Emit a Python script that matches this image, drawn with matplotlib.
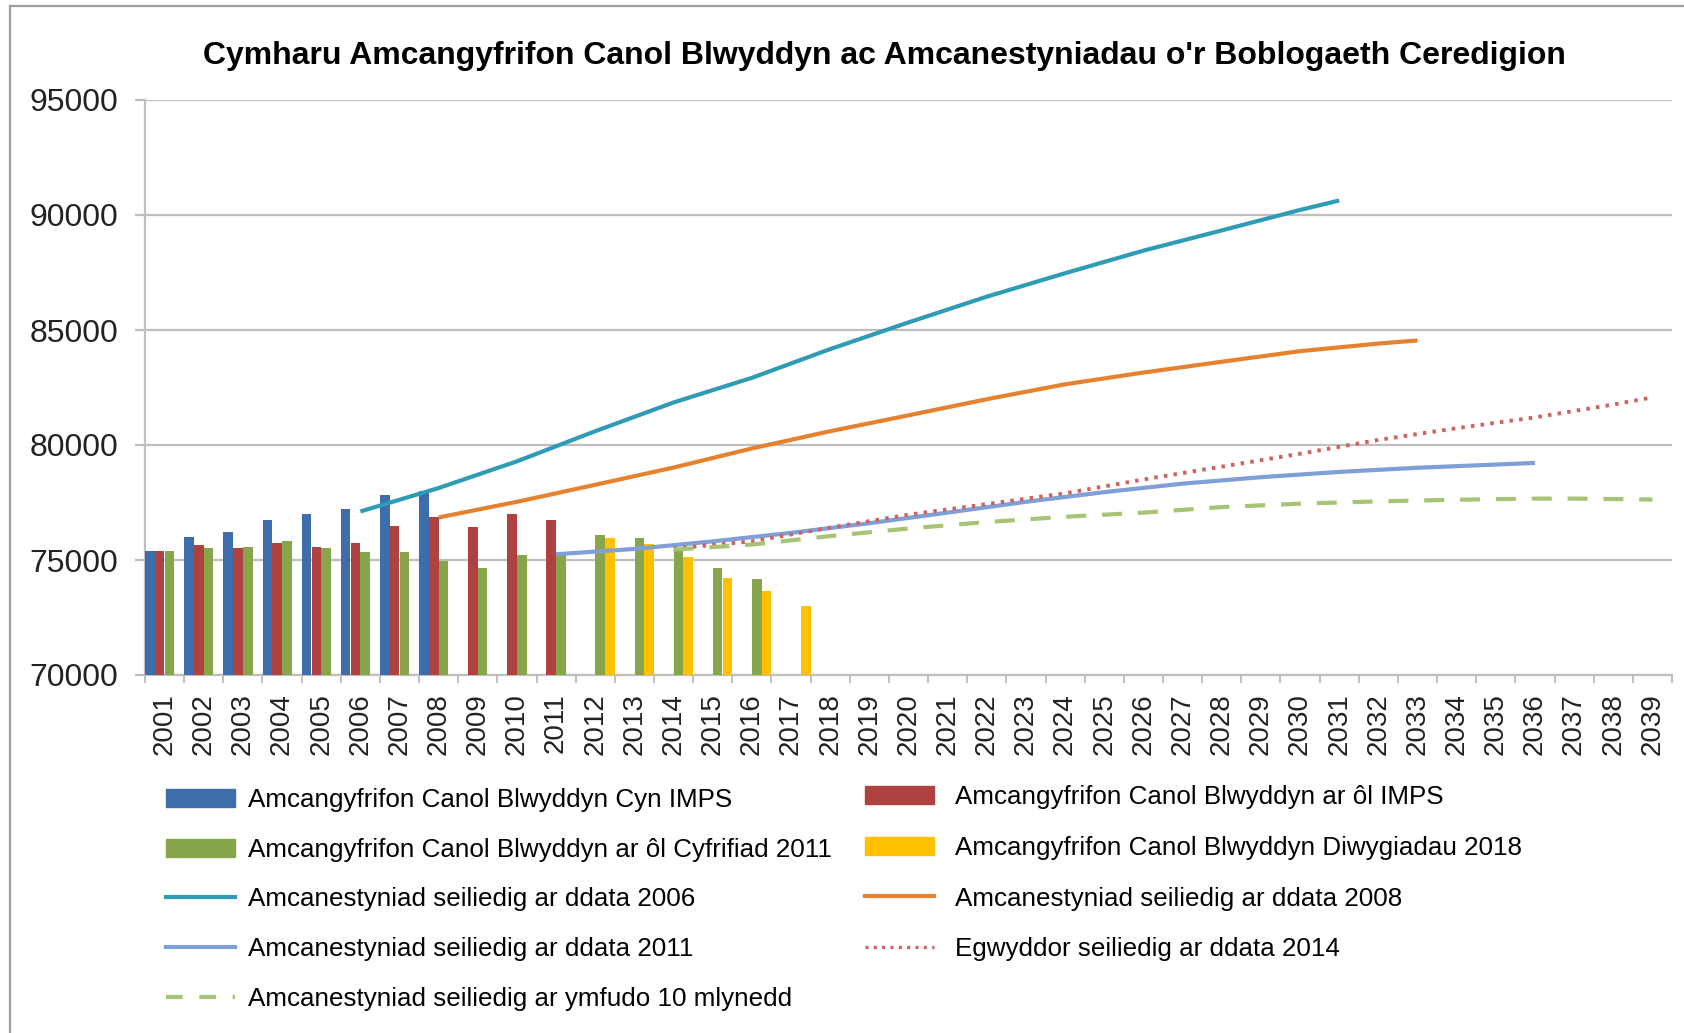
import numpy as np
import matplotlib
matplotlib.use("Agg")
import matplotlib.pyplot as plt
from matplotlib.lines import Line2D

plt.rcParams['font.family'] = ['Liberation Sans', 'DejaVu Sans']

# ------------------------- Data -------------------------
years = list(range(2001, 2040))

# bars (mid-year estimates)
blue_years = list(range(2001, 2009))
blue_vals = [75400, 75990, 76200, 76760, 76985, 77220, 77840, 78010]

red_years = list(range(2001, 2012))
red_vals = [75400, 75650, 75510, 75730, 75570, 75730, 76470, 76870, 76430, 76985, 76760]

green_years = list(range(2001, 2017))
green_vals = [75400, 75530, 75570, 75810, 75530, 75350, 75350, 74970,
              74660, 75220, 75220, 76070, 75970, 75395, 74660, 74160]

yellow_years = list(range(2012, 2018))
yellow_vals = [75970, 75700, 75120, 74220, 73650, 73015]

# projections
p2006_years = [2006, 2008, 2010, 2012, 2014, 2016, 2018, 2020, 2022, 2024, 2026, 2028, 2030, 2031]
p2006_vals = [77110, 78130, 79290, 80600, 81850, 82920, 84170, 85330, 86450, 87470, 88450, 89330, 90220, 90630]

p2008_years = [2008, 2010, 2012, 2014, 2016, 2018, 2020, 2022, 2024, 2026, 2028, 2030, 2032, 2033]
p2008_vals = [76850, 77530, 78270, 79020, 79850, 80600, 81290, 81990, 82640, 83150, 83620, 84080, 84410, 84545]

p2011_years = [2011, 2013, 2015, 2017, 2019, 2021, 2023, 2025, 2027, 2029, 2031, 2033, 2035, 2036]
p2011_vals = [75250, 75480, 75810, 76180, 76600, 77060, 77530, 77950, 78320, 78600, 78830, 79010, 79150, 79220]

p2014_years = [2014, 2016, 2018, 2020, 2022, 2024, 2026, 2028, 2030, 2032, 2034, 2036, 2038, 2039]
p2014_vals = [75500, 75810, 76410, 76970, 77430, 77900, 78500, 79060, 79620, 80220, 80730, 81200, 81760, 82070]

mig_years = [2014, 2016, 2018, 2020, 2022, 2024, 2026, 2028, 2030, 2032, 2034, 2036, 2037, 2039]
mig_vals = [75450, 75670, 76040, 76370, 76650, 76880, 77060, 77300, 77450, 77550, 77620, 77670, 77670, 77630]

labels = [
    "Amcangyfrifon Canol Blwyddyn Cyn IMPS",
    "Amcangyfrifon Canol Blwyddyn ar ôl IMPS",
    "Amcangyfrifon Canol Blwyddyn ar ôl Cyfrifiad 2011",
    "Amcangyfrifon Canol Blwyddyn Diwygiadau 2018",
    "Amcanestyniad seiliedig ar ddata 2006",
    "Amcanestyniad seiliedig ar ddata 2008",
    "Amcanestyniad seiliedig ar ddata 2011",
    "Egwyddor seiliedig ar ddata 2014",
    "Amcanestyniad seiliedig ar ymfudo 10 mlynedd",
]

title = "Cymharu Amcangyfrifon Canol Blwyddyn ac Amcanestyniadau o'r Boblogaeth Ceredigion"

# ------------------------- Figure -------------------------
W, H = 1684, 1033
fig = plt.figure(figsize=(W / 100, H / 100), dpi=100)
ax = fig.add_axes([145 / W, 1 - 675 / H, (1672 - 145) / W, (675 - 100) / H])

def xpos(yrs):
    return np.array(yrs) - years[0]

bw = 0.245
ax.bar(xpos(blue_years) - 0.375, np.array(blue_vals) - 70000, bw, bottom=70000, color='#3E6DAB', zorder=3)
ax.bar(xpos(red_years) - 0.125, np.array(red_vals) - 70000, bw, bottom=70000, color='#AF4241', zorder=3)
ax.bar(xpos(green_years) + 0.125, np.array(green_vals) - 70000, bw, bottom=70000, color='#87A64B', zorder=3)
ax.bar(xpos(yellow_years) + 0.375, np.array(yellow_vals) - 70000, bw, bottom=70000, color='#FFC000', zorder=3)

ax.plot(xpos(p2006_years), p2006_vals, color='#2F9BB5', lw=3.0, zorder=4, solid_capstyle='butt')
ax.plot(xpos(p2008_years), p2008_vals, color='#E5822F', lw=3.0, zorder=4, solid_capstyle='butt')
ax.plot(xpos(p2011_years), p2011_vals, color='#809FD6', lw=3.0, zorder=4, solid_capstyle='butt')
ax.plot(xpos(p2014_years), p2014_vals, color='#CD6262', lw=2.8, ls=(0, (0.9, 1.6)), zorder=4)
ax.plot(xpos(mig_years), mig_vals, color='#A6C474', lw=3.0, ls=(0, (4.8, 3.8)), zorder=4)

ax.set_xlim(-0.5, len(years) - 0.5)
ax.set_ylim(70000, 95000)
ax.set_yticks(range(70000, 95001, 5000))
ax.set_yticklabels([str(v) for v in range(70000, 95001, 5000)], fontsize=23, color='#222222')
ax.set_xticks(range(len(years)))
ax.set_xticklabels([str(y) for y in years], rotation=90, fontsize=20, color='#222222')
ax.set_xticks(np.arange(-0.5, len(years)), minor=True)

grid_c = '#BFBFBF'
ax.grid(axis='y', color=grid_c, lw=1.6, zorder=0)
ax.tick_params(axis='x', which='major', length=0, pad=13)
ax.tick_params(axis='x', which='minor', length=6, width=1.4, color=grid_c)
ax.tick_params(axis='y', length=7, width=1.6, color=grid_c, pad=12)
for s in ['top', 'right']:
    ax.spines[s].set_visible(False)
for s in ['left', 'bottom']:
    ax.spines[s].set_color(grid_c)
    ax.spines[s].set_linewidth(1.6)

fig.text(884 / W, 1 - 56 / H, title, ha='center', va='center', fontsize=23, fontweight='bold')

# ------------------------- Legend -------------------------
bar_h = [plt.Rectangle((0, 0), 1, 1, color=c) for c in ['#3E6DAB', '#AF4241', '#87A64B', '#FFC000']]
line_h = [
    Line2D([], [], color='#2F9BB5', lw=3.0),
    Line2D([], [], color='#E5822F', lw=3.0),
    Line2D([], [], color='#809FD6', lw=3.0),
    Line2D([], [], color='#CD6262', lw=2.4, ls=(0, (0.9, 1.6))),
    Line2D([], [], color='#A6C474', lw=3.0, ls=(0, (4.0, 4.0))),
]
handles = bar_h + line_h
col1 = [0, 2, 4, 6, 8]
col2 = [1, 3, 5, 7]
common = dict(loc='upper left', frameon=False, fontsize=18.7, borderpad=0, borderaxespad=0,
              handlelength=2.65, labelspacing=0.99)
fig.legend([handles[i] for i in col1], [labels[i] for i in col1],
           bbox_to_anchor=(166 / W, 1 - 788 / H), handletextpad=0.5, **common)
fig.legend([handles[i] for i in col2], [labels[i] for i in col2],
           bbox_to_anchor=(865 / W, 1 - 785 / H), handletextpad=0.8, labelspacing=1.03,
           **{k: v for k, v in common.items() if k != 'labelspacing'})

# chart border
fig.add_artist(Line2D([10 / W, 10 / W], [0, 1 - 6 / H], transform=fig.transFigure, color='#A0A0A0', lw=1.6))
fig.add_artist(Line2D([10 / W, 1], [1 - 6 / H, 1 - 6 / H], transform=fig.transFigure, color='#A0A0A0', lw=1.6))

fig.savefig('out.png', dpi=100)
